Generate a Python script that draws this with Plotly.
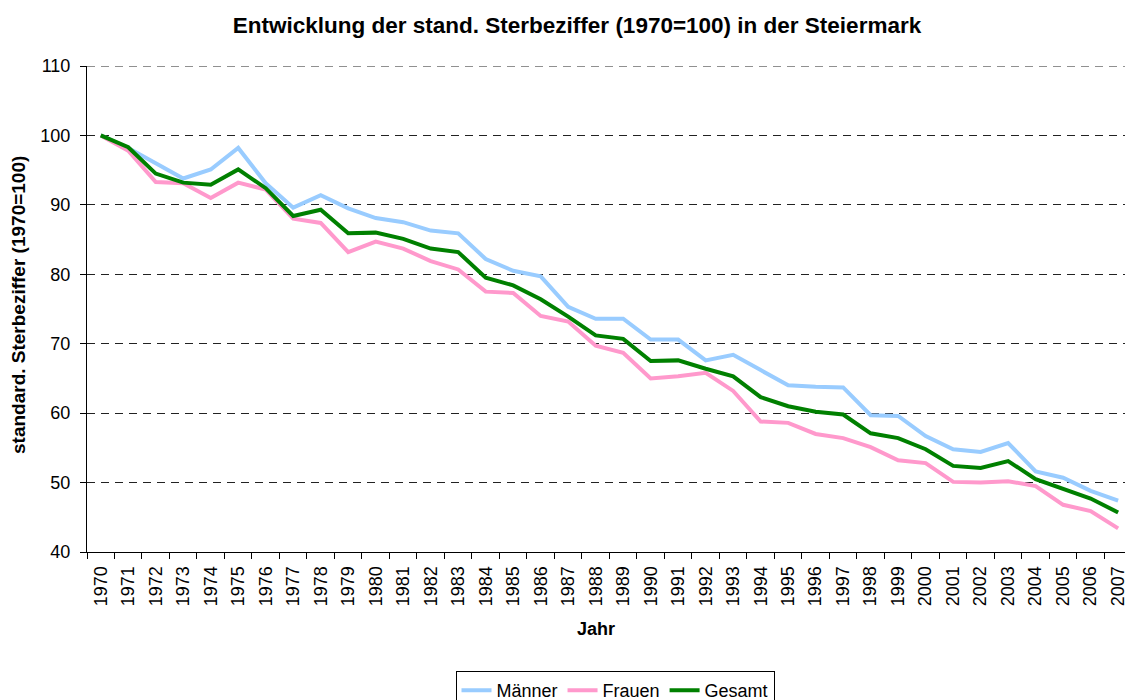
import plotly.graph_objects as go

years = [str(y) for y in range(1970, 2008)]
maenner = [100.0, 98.2, 96.0, 93.8, 95.1, 98.2, 93.1, 89.6, 91.4, 89.5,
           88.1, 87.5, 86.3, 85.9, 82.2, 80.5, 79.7, 75.3, 73.6, 73.6,
           70.6, 70.6, 67.6, 68.4, 66.2, 64.0, 63.8, 63.7, 59.7, 59.6,
           56.7, 54.8, 54.4, 55.7, 51.6, 50.7, 48.8, 47.4]
frauen = [100.0, 97.8, 93.3, 93.1, 91.0, 93.2, 92.2, 88.0, 87.4, 83.2,
          84.7, 83.7, 81.9, 80.7, 77.5, 77.3, 74.0, 73.2, 69.7, 68.7,
          65.0, 65.3, 65.8, 63.2, 58.8, 58.6, 57.0, 56.4, 55.1, 53.2,
          52.8, 50.1, 50.0, 50.2, 49.5, 46.8, 45.9, 43.4]
gesamt = [100.0, 98.3, 94.5, 93.2, 92.9, 95.1, 92.4, 88.4, 89.3, 85.9,
          86.0, 85.1, 83.7, 83.2, 79.5, 78.4, 76.4, 73.9, 71.2, 70.7,
          67.5, 67.6, 66.4, 65.3, 62.3, 61.0, 60.2, 59.8, 57.1, 56.4,
          54.8, 52.4, 52.1, 53.1, 50.5, 49.1, 47.7, 45.7]

FONT = "Liberation Sans, Arial, sans-serif"
L, R, T, B = 87, 0, 66, 148
W, H = 1125, 700
W_plot = W - L - R
H_plot = H - T - B
GRID_DASH = "8px,6px"

fig = go.Figure()
fig.add_trace(go.Scatter(x=years, y=maenner, name="Männer", mode="lines",
                         line=dict(color="#99CCFF", width=4)))
fig.add_trace(go.Scatter(x=years, y=frauen, name="Frauen", mode="lines",
                         line=dict(color="#FF99CC", width=4)))
fig.add_trace(go.Scatter(x=years, y=gesamt, name="Gesamt", mode="lines",
                         line=dict(color="#008000", width=4)))

fig.update_layout(
    width=W, height=H,
    margin=dict(l=L, r=R, t=T, b=B, autoexpand=False),
    paper_bgcolor="white", plot_bgcolor="white",
    font=dict(family=FONT, size=18, color="black"),
    title=dict(text="<b>Entwicklung der stand. Sterbeziffer (1970=100) in der Steiermark</b>",
               x=577 / W, xanchor="center", xref="container",
               y=1 - 25 / H, yanchor="middle", yref="container",
               font=dict(size=22.5, family=FONT)),
    showlegend=True,
    legend=dict(orientation="h", x=615 / W, xanchor="center", xref="container",
                y=1 - 671 / H, yanchor="top", yref="container",
                bordercolor="black", borderwidth=1, font=dict(size=18),
                itemwidth=30, tracegroupgap=0),
    xaxis=dict(type="category", range=[-0.5, 37.25], tickangle=-90,
               tickson="boundaries", ticks="outside", ticklen=6, tickcolor="black",
               showline=True, linecolor="black", linewidth=1, showgrid=False,
               tickfont=dict(size=18), automargin=False, ticklabeloverflow="allow",
               ticklabelstandoff=6),
    yaxis=dict(range=[40, 110], dtick=10, tick0=40, ticks="outside", ticklen=6,
               tickcolor="black", showline=True, linecolor="black", linewidth=1,
               showgrid=True, gridcolor="#222222", griddash=GRID_DASH, gridwidth=1,
               tickfont=dict(size=18), zeroline=False, automargin=False,
               ticklabelstandoff=6),
    shapes=[dict(type="line", xref="paper", yref="y", x0=0, x1=1, y0=110, y1=110,
                 line=dict(color="#222222", width=1, dash=GRID_DASH))],
    annotations=[
        dict(text="<b>Jahr</b>", xref="paper", yref="paper",
             x=(596 - L) / W_plot, y=(H - B - 629) / H_plot,
             xanchor="center", yanchor="middle",
             showarrow=False, font=dict(size=18)),
        dict(text="<b>standard. Sterbeziffer (1970=100)</b>", xref="paper", yref="paper",
             x=(18 - L) / W_plot, y=(H - B - 305) / H_plot,
             xanchor="center", yanchor="middle",
             showarrow=False, textangle=-90, font=dict(size=19)),
    ],
)

fig.write_html("out.html", config={"displayModeBar": False},
               post_script="document.body.style.margin='0';")
